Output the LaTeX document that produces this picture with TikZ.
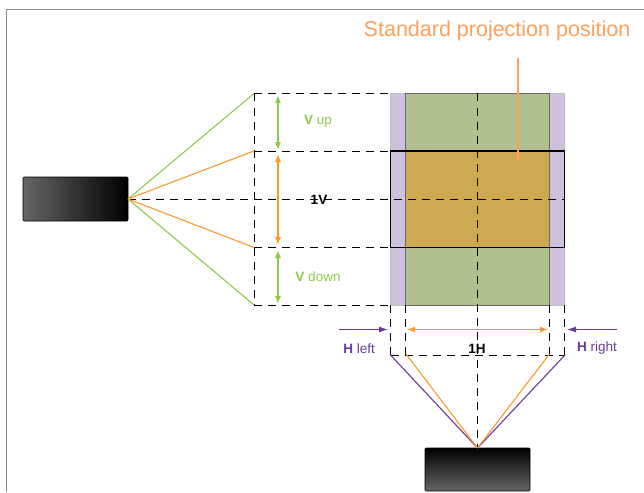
\documentclass[tikz,border=0pt]{standalone}
\usepackage{fontspec}
\setmainfont{Liberation Sans}
\usetikzlibrary{arrows.meta}

\definecolor{vgreen}{HTML}{8FC94A}
\definecolor{vorange}{HTML}{FA9A2B}
\definecolor{hpurple}{HTML}{6B3A96}
\definecolor{titleorange}{HTML}{FF9F5A}
\definecolor{sidefill}{HTML}{CFC0DE}
\definecolor{greenfill}{HTML}{B0C08F}
\definecolor{tanfill}{HTML}{CFA952}

\tikzset{
	guide/.style={draw=black,line width=0.9pt,dash pattern=on 8pt off 6pt},
	ray/.style={line width=1.1pt},
	span/.style={line width=1.1pt,{Latex[length=8pt,width=6pt]}-{Latex[length=8pt,width=6pt]}},
	push/.style={line width=1.1pt,-{Latex[length=9pt,width=6pt]}},
	lbl/.style={font=\fontsize{13.5}{15}\selectfont,inner sep=0pt},
	projector/.style={draw=black,line width=0.6pt,rounded corners=1pt,inner sep=0pt,outer sep=0pt}
}

\begin{document}
\begin{tikzpicture}[x=1pt,y=-1pt]
	\useasboundingbox (0,0) rectangle (644,492);

	% page frame
	\draw[black!45,line width=1pt] (6,492) -- (6,10) -- (644,10);

	% screen
	\node[draw=black!25,fill=sidefill,line width=0.8pt,inner sep=0pt,minimum width=174pt,minimum height=211.5pt] (side) at (477.5,199.25) {};
	\node[draw=black!60,fill=greenfill,line width=0.8pt,inner sep=0pt,minimum width=144.5pt,minimum height=211.5pt] (lens) at (477.25,199.25) {};
	\node[draw=black!60,fill=tanfill,line width=0.8pt,inner sep=0pt,minimum width=144.5pt,minimum height=96.5pt] (std) at (477.25,199.25) {};
	\node[draw=black,line width=1.1pt,inner sep=0pt,minimum width=174pt,minimum height=96.5pt] (frame) at (477.5,199.25) {};

	% projectors
	\node[projector,left color=black!60,right color=black,minimum width=105pt,minimum height=44pt] (projL) at (75.5,199) {};
	\node[projector,top color=black,bottom color=black!60,minimum width=105pt,minimum height=43pt] (projB) at (477.5,469.5) {};

	% corners
	\coordinate (lt) at (254,93.5);
	\coordinate (lu) at (254,151);
	\coordinate (ld) at (254,247.5);
	\coordinate (lb) at (254,305);
	\coordinate (st) at (390.5,93.5);
	\coordinate (su) at (390.5,151);
	\coordinate (sd) at (390.5,247.5);
	\coordinate (sb) at (390.5,305);
	\coordinate (ce) at (564.5,199);
	\coordinate (ct) at (477.5,93.5);
	\coordinate (a1) at (390.5,305);
	\coordinate (a2) at (405,305);
	\coordinate (a3) at (549.5,305);
	\coordinate (a4) at (564,305);
	\coordinate (b1) at (390.5,355);
	\coordinate (b2) at (405,355);
	\coordinate (b3) at (549.5,355);
	\coordinate (b4) at (564,355);

	% dashed guides
	\draw[guide] (lt) -- (st);
	\draw[guide] (lu) -- (su);
	\draw[guide] (ld) -- (sd);
	\draw[guide] (lb) -- (sb);
	\draw[guide] (lt) -- (lb);
	\draw[guide] (projL.east) -- (ce);
	\draw[guide] (ct) -- (projB.north);
	\draw[guide] (a1) -- (b1);
	\draw[guide] (a2) -- (b2);
	\draw[guide] (a3) -- (b3);
	\draw[guide] (a4) -- (b4);
	\draw[guide] (b1) -- (b4);

	% rays
	\draw[ray,vgreen] (projL.east) -- (lt);
	\draw[ray,vgreen] (projL.east) -- (lb);
	\draw[ray,vorange] (projL.east) -- (lu);
	\draw[ray,vorange] (projL.east) -- (ld);
	\draw[ray,hpurple] (projB.north) -- (b1);
	\draw[ray,hpurple] (projB.north) -- ([xshift=1pt]b4);
	\draw[ray,vorange] (projB.north) -- ([xshift=1pt,yshift=1pt]b2);
	\draw[ray,vorange] (projB.north) -- ([yshift=1pt]b3);

	% spans
	\coordinate (vu1) at (278,95);
	\coordinate (vu2) at (278,150);
	\coordinate (vc1) at (278,154);
	\coordinate (vc2) at (278,245);
	\coordinate (vd1) at (278,250);
	\coordinate (vd2) at (278,304);
	\coordinate (hc1) at (407,329.5);
	\coordinate (hc2) at (548,329.5);
	\coordinate (hl1) at (339,329.5);
	\coordinate (hl2) at (388,329.5);
	\coordinate (hr1) at (617,329.5);
	\coordinate (hr2) at (567,329.5);
	\draw[span,vgreen] (vu1) -- (vu2);
	\draw[span,vorange] (vc1) -- (vc2);
	\draw[span,vgreen] (vd1) -- (vd2);
	\draw[span,vorange] (hc1) -- (hc2);
	\draw[push,hpurple] (hl1) -- (hl2);
	\draw[push,hpurple] (hr1) -- (hr2);

	% labels
	\node[lbl,text=vgreen] (vup) at (318,121.5) {\textbf{V} up};
	\node[lbl,text=vgreen] (vdown) at (318,276.5) {\textbf{V} down};
	\node[lbl,text=black] (onev) at (319,199.5) {\textbf{1V}};
	\node[lbl,text=black] (oneh) at (477,348.5) {\textbf{1H}};
	\node[lbl,text=hpurple] (hleft) at (359,348.5) {\textbf{H} left};
	\node[lbl,text=hpurple] (hright) at (597,348.5) {\textbf{H} right};

	% title
	\node[text=titleorange,font=\fontsize{21.5}{24}\selectfont,inner sep=0pt] (title) at (497,30.5) {Standard projection position};
	\coordinate (tail1) at (518,58);
	\coordinate (tail2) at (518,162);
	\draw[titleorange,line width=2.2pt] (tail1) -- (tail2);
\end{tikzpicture}
\end{document}
